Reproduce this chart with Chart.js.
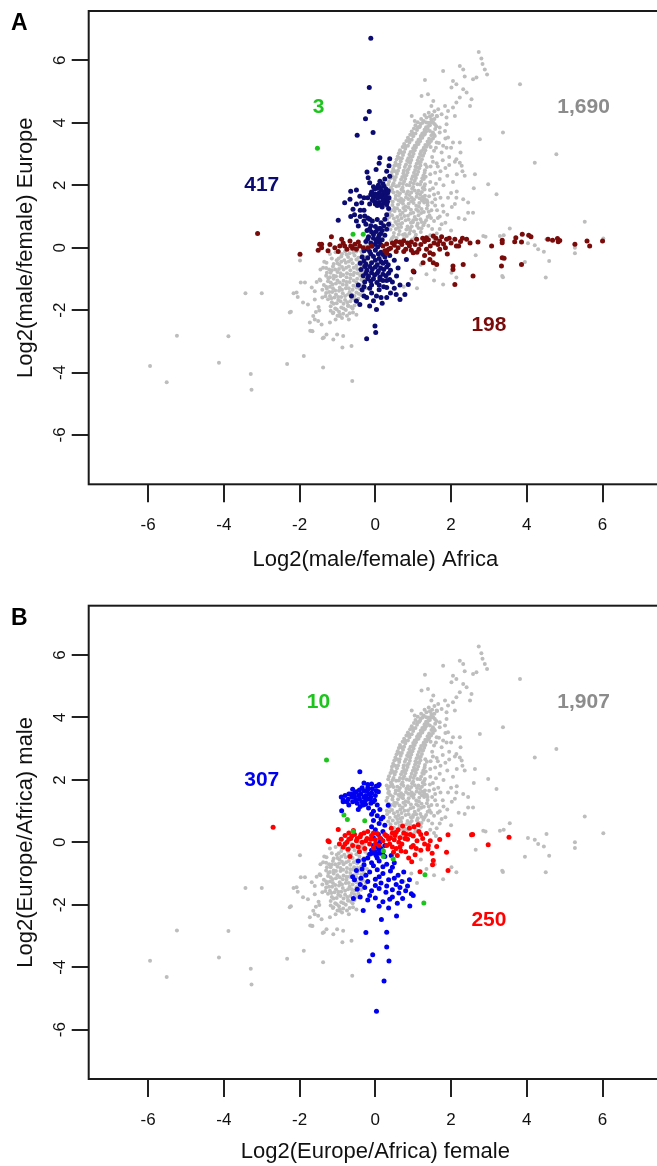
<!DOCTYPE html>
<html>
<head>
<meta charset="utf-8">
<script src="https://cdn.jsdelivr.net/npm/chart.js@4.4.1/dist/chart.umd.min.js"></script>
<style>
  html, body { margin: 0; padding: 0; background: #fff; }
  #page { position: relative; width: 657px; height: 1166px; overflow: hidden; }
  #panelA { position: absolute; left: 0; top: 0; }
  #panelB { position: absolute; left: 0; top: 595px; }
</style>
</head>
<body>
<div id="page">
  <canvas id="panelA" width="680" height="595"></canvas>
  <canvas id="panelB" width="680" height="571"></canvas>
</div>
<script>
// ---- data (log2 ratios) ----
const xTicks = [-6, -4, -2, 0, 2, 4, 6]
const yTicks = [-6, -4, -2, 0, 2, 4, 6]

// grey: genes not sex/population biased (the cloud looks the same in both panels)
const grayPoints = [
  // lower left stragglers
  [-5.95,-3.79],[-5.51,-4.31],[-5.24,-2.82],[-4.13,-3.69],[-3.88,-2.84],[-3.43,-1.46],[-3.0,-1.46],
  [-3.29,-4.05],[-3.27,-4.55],[-2.33,-3.73],[-1.89,-3.47],[-1.38,-3.84],[-0.61,-4.27],[-0.87,-3.2],
  [-1.72,-2.66],[-1.66,-2.68],[-1.39,-2.9],[-2.23,-2.05],[-2.16,-1.46],[-2.05,-1.58],[-1.97,-1.12],
  [-1.91,-1.76],[-1.78,-1.82],[-1.64,-2.19],[-1.6,-2.3],[-1.51,-2.35],[-1.57,-2.06],[-1.48,-2.01],
  [-1.99,-0.41],[-1.11,-2.94],[-1.36,-2.88],[-1.01,-2.78],
  [-2.26,-2.08],[-2.08,-1.44],[-1.86,-1.12],[-1.68,-1.28],[-1.6,-1.66],[-1.47,-1.02],[-1.38,-0.64],
  [-1.29,-0.48],[-1.73,-2.4],[-1.42,-2.46],[-1.11,-2.08],[-1.2,-2.4],[-0.94,-2.19],[-0.72,-1.87],
  [-0.59,-2.08],[-1.29,-2.78],[-0.85,-2.83],[-0.63,-3.15],[-1.68,-2.67],
  // lower core
  [-0.25,0.05],[-0.45,0.02],[-0.62,-0.05],[-0.8,-0.12],[-0.35,-0.2],[-0.55,-0.25],[-0.72,-0.3],
  [-0.9,-0.28],[-1.02,-0.4],[-0.2,-0.38],[-0.42,-0.45],[-0.6,-0.5],[-0.78,-0.48],[-0.95,-0.55],
  [-1.12,-0.6],[-0.3,-0.62],[-0.48,-0.68],[-0.66,-0.72],[-0.84,-0.7],[-1.0,-0.78],[-1.18,-0.8],
  [-1.3,-0.9],[-0.22,-0.85],[-0.4,-0.9],[-0.58,-0.88],[-0.76,-0.95],[-0.92,-0.92],[-1.1,-1.0],
  [-1.25,-1.08],[-0.32,-1.08],[-0.5,-1.12],[-0.68,-1.1],[-0.86,-1.18],[-1.04,-1.15],[-1.2,-1.25],
  [-1.36,-1.2],[-0.25,-1.3],[-0.42,-1.32],[-0.6,-1.35],[-0.78,-1.3],[-0.96,-1.38],[-1.14,-1.42],
  [-1.3,-1.45],[-0.38,-1.52],[-0.55,-1.55],[-0.72,-1.5],[-0.9,-1.58],[-1.08,-1.6],[-1.25,-1.65],
  [-0.48,-1.75],[-0.66,-1.72],[-0.84,-1.8],[-1.02,-1.78],[-1.18,-1.88],[-0.6,-1.95],[-0.78,-2.0],
  [-0.96,-2.05],[-1.12,-2.1],[-0.88,-2.25],[-1.05,-2.3],[-1.45,-0.7],[-1.55,-1.1],[-1.4,-1.6],
  [-1.6,-1.4],[-1.2,-0.2],[-1.35,-0.45],[-1.05,-0.15],[-1.5,-1.9],[-0.7,-2.3],[-0.5,-2.15],
  [-0.3,-0.08],[-0.5,-0.12],[-0.68,-0.18],[-0.88,-0.2],[-0.45,-0.32],[-0.64,-0.38],[-0.82,-0.4],
  [-1.0,-0.5],[-0.3,-0.5],[-0.5,-0.58],[-0.7,-0.6],[-0.88,-0.62],[-1.06,-0.7],[-1.22,-0.7],
  [-0.38,-0.78],[-0.56,-0.8],[-0.75,-0.82],[-0.92,-0.82],[-1.1,-0.9],[-1.24,-0.98],[-0.3,-0.98],
  [-0.48,-1.0],[-0.66,-0.98],[-0.84,-1.06],[-1.0,-1.05],[-1.18,-1.12],[-0.4,-1.2],[-0.58,-1.22],
  [-0.76,-1.2],[-0.94,-1.28],[-1.12,-1.3],[-1.28,-1.32],[-0.34,-1.4],[-0.5,-1.44],[-0.68,-1.42],
  [-0.86,-1.46],[-1.04,-1.5],[-1.2,-1.55],[-0.45,-1.64],[-0.62,-1.62],[-0.8,-1.68],[-0.98,-1.68],
  [-1.15,-1.75],[-0.55,-1.85],[-0.72,-1.85],[-0.9,-1.92],[-1.06,-1.95],[-0.68,-2.1],[-0.85,-2.12],
  [-1.0,-2.18],
  [-0.37,-0.12],[-0.58,-0.16],[-0.76,-0.22],[-0.97,-0.35],[-0.27,-0.3],[-0.5,-0.38],[-0.7,-0.44],
  [-0.9,-0.45],[-1.1,-0.52],[-0.37,-0.57],[-0.57,-0.64],[-0.77,-0.64],[-0.96,-0.68],[-1.15,-0.72],
  [-1.28,-0.8],[-0.28,-0.75],[-0.47,-0.82],[-0.66,-0.86],[-0.85,-0.88],[-1.04,-0.92],[-1.2,-0.95],
  [-0.37,-1.03],[-0.57,-1.05],[-0.76,-1.1],[-0.94,-1.12],[-1.13,-1.18],[-1.3,-1.25],[-0.33,-1.22],
  [-0.5,-1.28],[-0.7,-1.3],[-0.88,-1.35],[-1.06,-1.37],[-1.22,-1.42],[-0.44,-1.48],[-0.62,-1.5],
  [-0.8,-1.55],[-0.98,-1.58],[-1.16,-1.62],[-1.32,-1.56],[-0.55,-1.68],[-0.74,-1.75],[-0.92,-1.72],
  [-1.1,-1.8],[-0.64,-1.9],[-0.84,-1.95],[-1.02,-1.98],[-0.75,-2.18],[-0.94,-2.15],[-1.18,-2.02],
  [-1.4,-1.35],[-1.45,-1.05],[-1.3,-0.65],[-1.15,-0.35],
  // upper core
  [0.41,0.24],[0.56,0.31],[0.69,0.2],[0.83,0.37],[0.97,0.26],[0.49,0.47],[0.64,0.53],[0.78,0.44],
  [0.92,0.55],[1.07,0.41],[1.14,0.63],[0.34,0.67],[0.46,0.7],[0.6,0.64],[0.71,0.79],[0.85,0.68],
  [0.99,0.81],[1.12,0.77],[1.27,0.72],[0.31,0.9],[0.49,0.93],[0.61,0.87],[0.77,1.01],[0.88,0.9],
  [1.04,0.98],[1.19,0.91],[1.34,0.88],[0.37,1.12],[0.51,1.17],[0.66,1.05],[0.79,1.2],[0.93,1.09],
  [1.08,1.22],[1.21,1.11],[1.36,1.25],[1.43,1.03],[0.29,1.33],[0.45,1.37],[0.57,1.26],[0.73,1.41],
  [0.87,1.29],[1.01,1.43],[1.15,1.31],[1.29,1.45],[0.39,1.52],[0.53,1.57],[0.67,1.46],[0.81,1.61],
  [0.95,1.49],[1.09,1.63],[1.23,1.51],[0.33,1.72],[0.48,1.77],[0.62,1.66],[0.74,1.81],[0.9,1.69],
  [1.04,1.83],[1.18,1.71],[1.31,1.66],[0.41,1.92],[0.55,1.97],[0.69,1.86],[0.83,2.01],[0.97,1.89],
  [1.11,2.03],[1.25,1.91],[0.36,2.12],[0.51,2.17],[0.65,2.06],[0.79,2.21],[0.93,2.09],[1.07,2.23],
  [1.21,2.11],[1.31,2.03],[0.43,2.32],[0.57,2.37],[0.71,2.26],[0.85,2.41],[0.99,2.29],[1.13,2.43],
  [1.27,2.31],[0.47,2.52],[0.63,2.57],[0.75,2.46],[0.91,2.61],[1.05,2.49],[1.19,2.63],[1.31,2.48],
  [0.53,2.72],[0.67,2.77],[0.81,2.66],[0.95,2.81],[1.09,2.69],[1.23,2.83],[0.59,2.92],[0.73,2.97],
  [0.87,2.86],[1.01,3.01],[1.15,2.89],[1.29,3.03],[0.65,3.12],[0.79,3.17],[0.93,3.06],[1.07,3.21],
  [1.21,3.09],[1.35,3.23],[0.76,3.32],[0.9,3.37],[1.04,3.26],[1.18,3.41],[1.32,3.29],[1.46,3.22],
  [0.86,3.52],[1.0,3.57],[1.14,3.46],[1.28,3.61],[1.42,3.49],[0.96,3.72],[1.1,3.77],[1.24,3.66],
  [1.38,3.81],[1.52,3.69],[1.06,3.92],[1.2,3.97],[1.34,3.86],[1.48,4.01],[1.61,3.89],[1.21,4.12],
  [1.35,4.17],[1.49,4.06],[1.63,4.21],[1.41,4.32],[1.56,4.37],
  [0.48,0.36],[0.62,0.42],[0.76,0.3],[0.9,0.45],[1.02,0.52],[0.4,0.58],[0.54,0.6],[0.68,0.66],
  [0.82,0.58],[0.96,0.68],[1.1,0.7],[1.22,0.62],[0.38,0.79],[0.53,0.82],[0.66,0.76],[0.8,0.88],
  [0.94,0.8],[1.08,0.9],[1.22,0.82],[1.38,0.98],[0.3,1.01],[0.44,1.04],[0.58,0.98],[0.72,1.12],
  [0.86,1.02],[1.0,1.12],[1.14,1.04],[1.28,1.14],[0.35,1.24],[0.5,1.27],[0.64,1.18],[0.8,1.32],
  [0.94,1.21],[1.08,1.34],[1.22,1.24],[1.38,1.36],[0.32,1.43],[0.46,1.47],[0.6,1.38],[0.74,1.52],
  [0.88,1.41],[1.02,1.54],[1.16,1.43],[1.3,1.56],[0.36,1.62],[0.54,1.66],[0.68,1.57],[0.82,1.72],
  [0.96,1.6],[1.1,1.74],[1.24,1.62],[0.3,1.82],[0.44,1.86],[0.58,1.78],[0.72,1.92],[0.86,1.8],
  [1.0,1.94],[1.14,1.82],[1.3,1.86],[0.34,2.02],[0.48,2.06],[0.62,1.98],[0.76,2.12],[0.9,2.0],
  [1.04,2.14],[1.18,2.02],[1.28,2.2],[0.4,2.22],[0.54,2.26],[0.68,2.18],[0.82,2.32],[0.96,2.2],
  [1.1,2.34],[1.24,2.22],[0.44,2.42],[0.6,2.46],[0.74,2.38],[0.88,2.52],[1.02,2.4],[1.16,2.54],
  [1.3,2.4],[0.5,2.62],[0.64,2.66],[0.78,2.58],[0.92,2.72],[1.06,2.6],[1.2,2.74],[1.32,2.66],
  [0.56,2.82],[0.7,2.86],[0.84,2.78],[0.98,2.92],[1.12,2.8],[1.26,2.94],[0.62,3.02],[0.76,3.06],
  [0.9,2.98],[1.04,3.12],[1.18,3.0],[1.32,3.12],[0.72,3.22],[0.86,3.26],[1.0,3.18],[1.14,3.32],
  [1.28,3.2],[1.42,3.34],[0.82,3.42],[0.96,3.46],[1.1,3.38],[1.24,3.52],[1.38,3.4],[1.52,3.5],
  [0.92,3.62],[1.06,3.66],[1.2,3.58],[1.34,3.72],[1.48,3.6],[1.02,3.82],[1.16,3.86],[1.3,3.78],
  [1.44,3.92],[1.58,3.8],[1.12,4.02],[1.28,4.06],[1.42,4.0],[1.56,4.12],[1.3,4.25],[1.5,4.25],
  [0.44,0.3],[0.73,0.41],[1.05,0.33],[0.58,0.75],[0.91,0.62],[1.2,0.5],[0.37,0.98],[0.69,0.94],
  [1.0,0.88],[1.3,0.8],[0.42,1.2],[0.74,1.27],[1.13,1.17],[1.41,1.15],[0.34,1.58],[0.61,1.52],
  [0.87,1.56],[1.17,1.58],[1.36,1.52],[0.39,1.8],[0.65,1.74],[0.95,1.77],[1.23,1.78],[0.46,2.0],
  [0.73,2.04],[1.01,2.06],[1.29,1.97],[0.47,2.25],[0.77,2.29],[1.06,2.31],[1.33,2.27],[0.52,2.45],
  [0.84,2.47],[1.12,2.56],[1.36,2.58],[0.57,2.65],[0.88,2.75],[1.16,2.71],[0.63,2.87],[0.94,2.92],
  [1.22,2.96],[0.69,3.05],[0.99,3.09],[1.27,3.15],[0.8,3.25],[1.09,3.29],[1.39,3.3],[0.9,3.45],
  [1.19,3.49],[1.47,3.42],[1.0,3.65],[1.29,3.7],[1.55,3.62],[1.12,3.85],[1.4,3.9],[1.25,4.0],
  [1.53,4.0],[1.44,4.2],
  // upper tail and right side scatter
  [2.73,6.27],[2.8,6.06],[2.83,5.88],[2.89,5.71],[2.23,5.82],[2.32,5.71],[1.79,5.66],[2.95,5.55],
  [2.67,5.45],[2.58,5.39],[2.36,5.48],[1.31,5.37],[2.05,5.34],[2.14,5.23],[2.01,5.13],[2.32,5.07],
  [2.41,4.97],[3.82,5.23],[1.39,4.91],[1.53,4.7],[1.48,4.54],[1.22,4.86],[2.23,4.81],[2.54,4.75],
  [2.5,4.54],[2.14,4.65],[1.66,4.43],[1.84,4.54],[1.92,4.38],[2.05,4.49],[1.75,4.27],[1.62,4.22],
  [1.88,4.17],[2.1,4.22],[0.96,4.22],[1.04,4.06],[1.18,3.9],[1.35,4.01],[1.48,4.11],[1.57,3.95],
  [1.7,3.85],[1.88,3.95],[1.44,3.74],[1.31,3.64],[1.57,3.58],[1.7,3.69],[1.84,3.74],[1.92,3.53],
  [1.62,3.37],[1.79,3.26],[2.05,3.37],[2.23,3.37],[2.76,3.47],[3.37,3.69],
  [1.5,2.9],[1.62,2.7],[1.75,3.05],[1.58,2.4],[1.7,2.2],[1.85,2.55],[1.95,2.9],[2.1,2.75],
  [1.52,1.9],[1.66,1.75],[1.8,2.0],[1.92,1.6],[2.05,2.1],[1.5,1.45],[1.63,1.2],[1.78,1.35],
  [1.9,1.05],[2.02,1.3],[1.55,0.85],[1.7,0.6],[1.85,0.8],[2.0,0.55],[2.2,0.95],[2.15,1.8],
  [2.3,2.45],[2.45,1.45],[1.45,0.4],[1.6,0.2],[2.6,1.9],[1.68,3.35],[1.85,3.5],[2.0,3.2],[2.25,3.05],
  [1.46,2.6],[1.55,3.1],[1.45,2.1],[1.42,1.65],[1.48,1.2],[1.58,1.55],[1.6,2.05],[1.72,2.45],
  [1.4,0.7],[1.5,0.6],[1.38,1.45],[1.7,1.0],
  [1.45,2.35],[1.52,2.75],[1.6,3.2],[1.44,1.85],[1.55,1.7],[1.47,0.95],[1.58,1.35],[1.65,2.6],
  [1.78,2.8],[1.72,1.6],[1.8,1.15],[1.65,0.95],[1.9,2.3],[2.0,1.75],[1.95,2.65],[1.62,0.45],
  [1.75,0.75],[2.1,1.4],[1.88,3.2],[2.15,2.35],[1.55,0.3],
  [4.21,2.72],[4.78,2.99],[2.98,2.03],[3.2,1.71],[2.63,2.35],[2.36,2.3],[2.14,1.6],[2.32,1.55],
  [2.23,2.72],[2.14,2.83],[2.28,2.62],[2.58,1.12],[2.36,0.91],[2.45,1.12],[5.53,0.83],[3.55,0.61],
  [2.85,0.37],[3.29,0.37],[4.03,0.14],[4.21,0.08],[4.3,-0.05],[4.45,-0.13],[5.27,0],[5.27,-0.18],
  [3.35,-0.91],[3.37,-0.95],[4.5,-0.96],[3.95,-0.46],[4.59,-0.43],[1.79,-1.18],[2.01,-0.8],
  [2.14,-0.96],[1.57,-0.7],[2.91,0.35],[3.39,0.4],[2.65,-0.24],[6.02,0.29],[4.52,0.27],
  [1.2,-0.55],[1.35,-0.85],[0.95,-1.0],[1.1,-1.3],[1.55,-1.05],[0.75,-1.25]
]

// panel A: male/female, Europe vs Africa
const navyA = [
  [-0.12,6.71],[-0.16,5.13],[-0.16,4.36],[-0.26,4.13],[-0.06,3.69],[-0.48,3.6],
  [0.12,2.88],[0.1,2.7],[0.38,2.85],[0.36,2.62],[-0.22,2.42],[-0.19,2.24],[-0.15,2.08],[0.12,2.13],
  [0.23,1.97],[0.38,2.29],[0.3,2.45],[0.02,2.5],[0.25,2.2],
  [-0.05,1.95],[0.05,1.9],[0.15,1.85],[0.28,1.88],[-0.1,1.78],[0,1.72],[0.1,1.75],[0.2,1.7],
  [0.32,1.74],[-0.05,1.62],[0.06,1.58],[0.16,1.62],[0.26,1.55],[0.36,1.6],[-0.02,1.48],[0.1,1.45],
  [0.22,1.42],[0.32,1.47],[0.05,1.35],[0.18,1.3],
  [-0.02,1.88],[0.12,1.92],[0.22,1.78],[0.34,1.82],[-0.12,1.7],[0.04,1.66],[0.14,1.68],[0.27,1.64],
  [-0.08,1.52],[0.2,1.52],[0.3,1.38],[0,1.4],[0.14,1.36],[-0.15,1.4],[0.08,2.0],[0.2,2.05],
  [-0.65,1.81],[-0.81,1.44],[-0.67,1.55],[-0.36,1.44],[-0.41,1.65],[-0.59,1.23],[-0.98,0.88],
  [-0.5,0.85],[-0.45,0.69],[-0.28,1.01],[-0.15,0.91],[0.25,0.91],[0.3,0.59],[-0.3,1.2],[-0.2,1.6],
  [-0.55,1.05],[-0.4,1.2],[-0.5,1.4],[-0.3,0.85],[-0.4,1.0],[-0.65,1.0],[-0.3,1.6],[-0.5,1.85],
  [0.35,0.75],[0.3,1.05],[0.35,1.25],
  [-0.2,0.95],[-0.08,0.85],[0.05,0.9],[0.15,0.8],[-0.25,0.75],[-0.12,0.7],[0,0.68],[0.12,0.62],
  [0.22,0.7],[-0.22,0.55],[-0.1,0.5],[0.02,0.52],[0.14,0.45],[0.25,0.4],[-0.18,0.35],[-0.05,0.3],
  [0.08,0.32],[0.18,0.25],[-0.12,0.15],[0,0.12],[0.1,0.18],[-0.25,0.2],
  [-0.15,0.6],[0.06,0.6],[0.18,0.55],[-0.05,0.42],[0.1,0.4],[-0.2,0.28],[0.02,0.22],[0.14,0.1],
  [-0.08,0.05],[0.06,0.02],[-0.2,-0.05],[0.08,-0.2],[0.2,-0.22],[-0.12,-0.2],[0,-0.4],[0.15,-0.45],
  [-0.3,-0.42],[0.28,-0.45],[-0.15,-0.6],[0,-0.62],[0.14,-0.65],[0.3,-0.62],[-0.28,-0.6],[-0.1,-0.8],
  [0.05,-0.82],[0.2,-0.85],[0.35,-0.82],[-0.25,-0.82],[-0.05,-1.0],[0.12,-1.02],[0.3,-1.05],
  [-0.2,-1.0],[-0.1,-1.2],[0.1,-1.2],[0.22,-1.25],[-0.3,-1.25],[0.45,-1.1],[0.65,-1.2],[0.55,-1.5],
  [0.4,-1.45],[-0.1,-1.45],[0.15,-1.6],[-0.3,-1.55],
  [-0.3,-0.1],[-0.15,-0.12],[0,-0.08],[0.15,-0.15],[0.3,-0.1],[-0.35,-0.3],[-0.2,-0.32],
  [-0.05,-0.28],[0.1,-0.35],[0.25,-0.3],[0.38,-0.25],[-0.4,-0.5],[-0.25,-0.52],[-0.1,-0.48],
  [0.05,-0.55],[0.2,-0.5],[0.34,-0.55],[-0.38,-0.7],[-0.22,-0.72],[-0.08,-0.68],[0.08,-0.75],
  [0.22,-0.7],[0.4,-0.72],[-0.32,-0.9],[-0.18,-0.92],[-0.02,-0.88],[0.12,-0.95],[0.28,-0.9],
  [-0.28,-1.1],[-0.12,-1.08],[0.04,-1.12],[0.2,-1.05],[0.56,-0.91],[0.38,-1.02],[0.82,-0.38],
  [1.02,-0.78],[0.87,-1.18],[0.5,-0.4],[0.6,-0.65],
  [-0.63,-1.55],[-0.5,-1.71],[-0.41,-1.82],[-0.23,-1.6],[0.03,-1.55],[0.3,-1.6],[0.65,-1.66],
  [0.78,-1.5],[0.03,-1.98],[-0.01,-2.51],[0.01,-2.72],[-0.23,-2.92],[-0.15,-1.87],[-0.35,-1.35],
  [-0.15,-1.3],[0.1,-1.35],[0.3,-1.28],[-0.05,-1.7],[0.18,-1.78],[-0.45,-1.2],[0.5,-1.3]
]
const darkRedA = [
  [-3.11,0.45],[-1.99,-0.21],[-1.51,-0.08],[-1.42,0.11],[-1.47,0.11],[-1.42,0],[-1.16,0.35],
  [-1.07,0],[-0.94,0.05],[-0.81,0.05],[-0.89,0.27],[-0.67,0.21],[-0.54,0.11],[-0.41,0.05],
  [-0.32,0],[-0.19,0],[-0.1,0.05],[-0.75,-0.05],[-0.6,-0.02],[-1.25,-0.1],[-0.98,-0.12],
  [-0.5,-0.05],[-0.85,0.15],[-1.2,0.1],[-0.65,0.05],[-0.45,0.18],
  [0.2,0.05],[0.3,0.12],[0.4,-0.02],[0.5,0.08],[0.6,0],[0.7,0.1],[0.8,-0.05],[0.9,0.05],
  [0.25,-0.1],[0.45,0.15],[0.55,-0.12],[0.75,-0.12],[0.65,0.18],[0.85,0.15],[0.35,-0.05],[0.95,-0.08],
  [0.3,-0.18],[0.55,0.2],[0.75,0.22],[0.95,0.18],[1.1,-0.15],[1.25,0.3],[1.45,0.05],[1.55,0.15],
  [1.85,0],[1.9,-0.2],[2.2,0.05],[2.3,0.3],[2.5,0.15],[1.35,-0.05],[1.05,0.1],
  [1.0,-0.16],[1.09,0.27],[1.35,0.32],[1.53,0.37],[1.7,0.21],[1.88,0.27],[2.1,0.27],[2.14,0.05],
  [2.41,0.27],[2.71,0.18],[3.07,0.05],[3.35,0.24],[3.35,0.16],[3.68,0.19],[3.71,0.32],[3.88,0.43],
  [3.86,0.18],[4.05,0.4],[4.11,0.35],[4.56,0.27],[4.68,0.24],[4.81,0.29],[4.87,0.23],[4.83,0.19],
  [5.27,0.11],[5.59,0.21],[5.66,0.05],[6.0,0.21],[1.26,-0.48],[1.44,-0.38],[1.53,-0.48],
  [1.62,-0.54],[1.44,-0.16],[1.53,-0.21],[1.7,-0.05],[2.05,-0.7],[2.1,-1.18],[2.32,-0.54],
  [2.58,-0.91],[3.35,-0.32],[3.4,-0.34],[3.33,-0.59],[3.86,-0.54],[1.0,-0.75],[1.2,0.1],[1.3,0.2],
  [1.6,0.3],[1.8,0.12],[1.95,0.3],[2.0,0.15],[1.15,-0.05],[1.75,0.35],[2.25,0.2],[1.4,0.25],
  [1.65,0.1],[1.3,-0.25],[2.05,-0.59]
]
const greenA = [[-1.53,3.18],[-0.59,0.43],[-0.32,0.43]]

// panel B: Europe/Africa, male vs female
const blueB = [
  [-0.41,2.26],
  [-0.9,1.45],[-0.8,1.5],[-0.72,1.38],[-0.65,1.55],[-0.6,1.3],[-0.55,1.45],[-0.5,1.62],[-0.48,1.25],
  [-0.42,1.4],[-0.38,1.55],[-0.35,1.75],[-0.32,1.2],[-0.28,1.32],[-0.25,1.5],[-0.22,1.65],[-0.2,1.85],
  [-0.18,1.1],[-0.15,1.4],[-0.12,1.25],[-0.1,1.58],[-0.08,1.72],[-0.05,1.0],[-0.02,1.35],[0,1.5],
  [0.05,1.2],[0.08,1.62],[0.1,1.85],[0.12,1.05],[-0.7,1.2],[-0.85,1.3],[-0.3,1.9],[-0.45,1.05],
  [0.02,1.8],[-0.6,1.7],[0.07,1.81],[-0.1,1.87],[-0.19,1.71],[-0.85,1.36],
  [-0.7,1.55],[-0.62,1.45],[-0.52,1.35],[-0.44,1.5],[-0.36,1.3],[-0.3,1.45],[-0.22,1.38],[-0.16,1.55],
  [-0.3,1.65],[-0.42,1.68],[-0.55,1.58],[-0.26,1.22],[-0.4,1.15],[-0.12,1.45],[-0.06,1.3],[-0.2,1.75],
  [0.02,1.65],[-0.75,1.3],
  [-0.1,0.9],[0.05,0.85],[0.15,0.75],[-0.05,0.7],[0.1,0.6],[0.25,0.55],[-0.1,0.5],[0,0.4],
  [0.2,0.35],[0.08,0.25],[-0.05,0.15],[0.15,0.1],[0.3,0.2],[0.2,0.8],[0.34,1.19],[-0.89,1.01],
  [-0.05,-0.1],[0.05,-0.15],[0.15,-0.2],[0,-0.3],[0.1,-0.35],[0.2,-0.3],[-0.1,-0.25],[0.08,-0.05],
  [0.25,-0.1],[-0.15,-0.38],[0.02,-0.42],[0,-0.15],[0.1,-0.22],[-0.08,-0.35],[0.2,-0.4],[0.05,-0.5],
  [0.12,0],
  [-0.45,-0.6],[-0.3,-0.55],[-0.1,-0.65],[0.1,-0.6],[0.3,-0.7],[0.5,-0.65],[-0.5,-0.9],[-0.35,-0.85],
  [-0.15,-0.95],[0.05,-0.88],[0.2,-1.0],[0.4,-0.92],[0.6,-1.05],[0.75,-0.95],[-0.55,-1.2],
  [-0.38,-1.15],[-0.2,-1.25],[0,-1.18],[0.15,-1.3],[0.35,-1.2],[0.55,-1.35],[0.7,-1.25],[0.85,-1.4],
  [-0.48,-1.5],[-0.28,-1.45],[-0.1,-1.55],[0.1,-1.48],[0.28,-1.6],[0.45,-1.52],[0.62,-1.62],
  [0.8,-1.55],[0.95,-1.65],[-0.58,-1.8],[-0.4,-1.75],[-0.2,-1.85],[0,-1.78],[0.2,-1.9],[0.38,-1.82],
  [0.58,-1.95],[0.72,-1.8],[-0.32,-2.18],[0.16,-2.47],[0.56,-2.36],[0.91,-2.04],[1.0,-1.7],
  [-0.6,-1.1],[0.9,-1.2],[0.25,-0.45],[-0.2,-0.5],[0.42,-0.42],
  [-0.3,-0.72],[-0.05,-0.75],[0.2,-0.78],[0.45,-0.8],[-0.25,-1.05],[0.1,-1.1],[0.5,-1.15],
  [-0.4,-1.35],[0,-1.38],[0.3,-1.4],[0.65,-1.45],[-0.15,-1.7],[0.45,-1.75],[0.1,-2.05],[0.35,-2.1],
  [-0.25,-2.89],[0.3,-2.88],[0.3,-3.35],[-0.07,-3.6],[-0.16,-3.8],[0.36,-3.8],[0.23,-4.44],[0.03,-5.41]
]
const redB = [
  [-2.7,0.48],[-1.25,0.05],[-1.22,0.02],[-0.98,0.41],[-0.67,-0.45],[1.13,0.56],[0.96,-0.62],
  [1.18,-0.94],[1.53,-0.58],[1.51,-0.72],[1.92,-0.9],[1.92,0.24],[2.54,0.24],[2.57,0.25],
  [2.98,-0.08],[3.53,0.16],[1.39,-0.21],[1.62,-0.13],[1.7,0.09],[1.88,-0.32],
  [-0.9,0.1],[-0.8,0.22],[-0.75,0],[-0.7,0.3],[-0.65,0.12],[-0.6,-0.1],[-0.55,0.25],[-0.5,0.05],
  [-0.45,-0.15],[-0.4,0.18],[-0.35,0],[-0.3,0.3],[-0.28,-0.2],[-0.22,0.12],[-0.15,-0.05],[-0.1,0.22],
  [-0.05,-0.18],[0,0.08],[0.05,0.28],[0.1,-0.1],[-0.85,-0.15],[-0.58,0.38],[-0.42,-0.3],[-0.95,-0.05],
  [-0.72,-0.22],[-0.2,0.35],[0.2,0.05],
  [-0.62,0.2],[-0.48,0.12],[-0.38,0.25],[-0.25,0.05],[-0.12,0.1],[-0.05,0.3],[0,-0.05],[0.12,0.15],
  [0.25,0.25],[0.4,0.15],[0.55,0.32],[0.65,-0.15],[0.82,0.25],[1.0,-0.1],[-0.7,0.1],[-0.8,-0.05],
  [0.3,-0.1],[0.45,-0.15],[1.2,0.25],[1.4,-0.1],
  [0.3,0.2],[0.38,-0.05],[0.45,0.3],[0.5,0.08],[0.55,-0.2],[0.6,0.4],[0.65,0.15],[0.7,-0.05],
  [0.75,0.3],[0.8,-0.3],[0.85,0.1],[0.9,0.45],[0.95,-0.15],[1.0,0.2],[1.05,-0.4],[1.1,0.05],
  [1.15,0.35],[1.2,-0.25],[1.25,0.12],[1.3,-0.05],[1.35,0.28],[1.45,0.05],[1.5,-0.35],[0.42,0.45],
  [0.58,-0.42],[0.72,0.52],[0.88,-0.5],[1.02,0.5],[0.35,0.1],[0.48,-0.32],[0.62,0],[0.78,0.12],
  [0.68,-0.28],[0.92,0.25],[1.08,-0.2],[0.52,0.22]
]
const greenB = [
  [-1.29,2.64],[-0.83,0.88],[-0.74,0.73],[-0.28,0.69],[-0.59,0.35],[0.21,-0.27],[0.21,-0.45],
  [0.47,-0.53],[1.31,-1.04],[1.28,-1.94]
]

// group counts written on the panels
const countsA = ['3', '417', '1,690', '198']
const countsB = ['10', '307', '1,907', '250']
const countX = [-1.5, -3, 5.5, 3]
const countYA = [4.5, 2, 4.5, -2.5]
const countYB = [4.5, 2, 4.5, -2.5]

const FONT = '"Liberation Sans", Arial, Helvetica, sans-serif'
Chart.defaults.font.family = FONT
Chart.defaults.color = '#111'

const framePlugin = {
  id: 'frame',
  afterDraw(chart, args, opts) {
    const { ctx, chartArea: a, scales } = chart
    const x = scales.x, y = scales.y
    ctx.save()
    ctx.strokeStyle = '#1a1a1a'
    ctx.lineWidth = 2
    ctx.strokeRect(a.left, a.top, a.right - a.left, a.bottom - a.top)

    // y tick labels run along the axis like R's default
    ctx.fillStyle = '#111'
    ctx.font = '17px ' + FONT
    ctx.textAlign = 'center'
    ctx.textBaseline = 'middle'
    y.ticks.forEach(t => {
      ctx.save()
      ctx.translate(60, y.getPixelForValue(t.value))
      ctx.rotate(-Math.PI / 2)
      ctx.fillText(String(t.value), 0, 0)
      ctx.restore()
    })

    ctx.font = 'bold 21px ' + FONT
    opts.counts.forEach((txt, i) => {
      ctx.fillStyle = opts.countColors[i]
      ctx.fillText(txt, x.getPixelForValue(countX[i]), y.getPixelForValue(opts.countY[i]))
    })

    ctx.fillStyle = '#000'
    ctx.textAlign = 'left'
    ctx.textBaseline = 'alphabetic'
    ctx.font = 'bold 23px ' + FONT
    ctx.fillText(opts.letter, 11, 30)
    ctx.restore()
  }
}

function points(data, color, r) {
  return {
    data: data,
    backgroundColor: color,
    borderWidth: 0,
    pointRadius: r,
    pointHoverRadius: r
  }
}

function makePanel(id, sets, xTitle, yTitle, geo, extra) {
  return new Chart(document.getElementById(id), {
    type: 'scatter',
    data: { datasets: sets },
    options: {
      responsive: false,
      animation: false,
      events: [],
      layout: { padding: { left: 0, top: geo.top, right: 18, bottom: 0 } },
      plugins: { legend: { display: false }, tooltip: { enabled: false }, frame: extra },
      scales: {
        x: {
          type: 'linear', min: -7.57, max: 7.57,
          afterBuildTicks: s => { s.ticks = xTicks.map(v => ({ value: v })) },
          afterFit: s => { s.height = geo.xHeight },
          grid: { drawOnChartArea: false, drawTicks: true, tickLength: 18, lineWidth: 2, color: '#222' },
          border: { display: false },
          ticks: { font: { size: 17 }, color: '#111', padding: 13, callback: v => String(v) },
          title: { display: true, text: xTitle, font: { size: 22 }, color: '#111', padding: { top: 0, bottom: geo.titleBottom } }
        },
        y: {
          type: 'linear', min: -7.58, max: 7.58,
          afterBuildTicks: s => { s.ticks = yTicks.map(v => ({ value: v })) },
          afterFit: s => { s.width = 88.7 },
          grid: { drawOnChartArea: false, drawTicks: true, tickLength: 17, lineWidth: 2, color: '#222' },
          border: { display: false },
          ticks: { display: false },
          title: { display: true, text: yTitle, font: { size: 22 }, color: '#111', padding: { top: 12.8, bottom: 0 } }
        }
      }
    },
    plugins: [framePlugin]
  })
}

makePanel('panelA', [
  points(greenA, '#1ec41e', 2.5),
  points(darkRedA, '#7a0b0b', 2.5),
  points(navyA, '#0b0b72', 2.5),
  points(grayPoints, '#bdbdbd', 2.0)
], 'Log2(male/female) Africa', 'Log2(male/female) Europe',
  { top: 11, xHeight: 595 - 484.3, titleBottom: 21.8 },
  { letter: 'A', counts: countsA, countY: countYA, countColors: ['#1ec41e', '#0b0b72', '#8c8c8c', '#7a0b0b'] })

makePanel('panelB', [
  points(greenB, '#1ec41e', 2.5),
  points(redB, '#ff0000', 2.5),
  points(blueB, '#0000f0', 2.5),
  points(grayPoints, '#bdbdbd', 2.0)
], 'Log2(Europe/Africa) female', 'Log2(Europe/Africa) male',
  { top: 10.7, xHeight: 571 - 484, titleBottom: 0.8 },
  { letter: 'B', counts: countsB, countY: countYB, countColors: ['#1ec41e', '#0000f0', '#8c8c8c', '#ff0000'] })
</script>
</body>
</html>
